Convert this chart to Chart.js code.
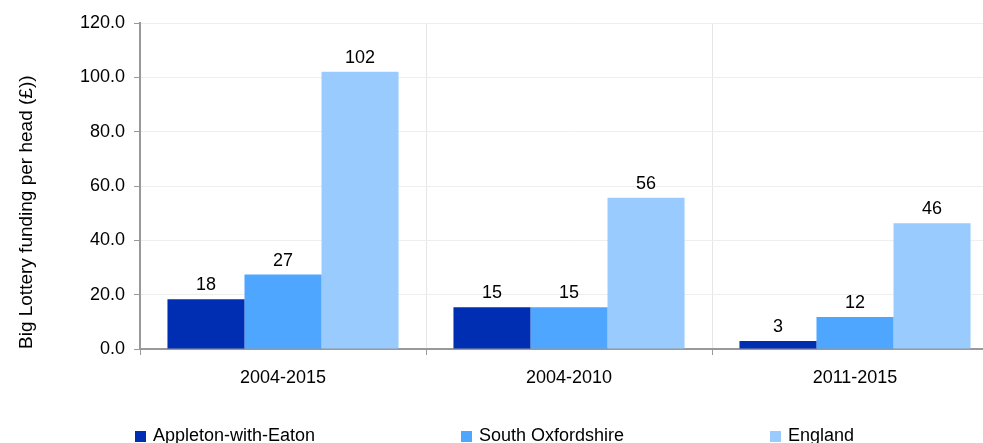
<!DOCTYPE html>
<html>
<head>
<meta charset="utf-8">
<script src="https://cdn.jsdelivr.net/npm/chart.js@4"></script>
<style>
  html, body { margin: 0; padding: 0; background: #fff; overflow: hidden; }
  #wrap { position: relative; width: 1000px; height: 443px; }
  #legend { position: absolute; left: 0; top: 0; width: 1000px; height: 443px; pointer-events: none;
    font-family: "Liberation Sans", Arial, sans-serif; font-size: 18px; color: #000; }
  .item { position: absolute; top: 425px; line-height: 21px; white-space: nowrap; }
  .box { display: inline-block; width: 11px; height: 11px; margin-right: 7px; vertical-align: -1px; }
</style>
</head>
<body>
<div id="wrap">
  <canvas id="barChart" width="1000" height="443"></canvas>
  <div id="legend"></div>
</div>
<script>
var periods = ['2004-2015', '2004-2010', '2011-2015'];
var appleton = [18.3, 15.4, 2.9];
var southOxon = [27.4, 15.4, 11.8];
var england = [102.1, 55.7, 46.3];
var yTicks = [0, 20, 40, 60, 80, 100, 120];

var seriesNames = ['Appleton-with-Eaton', 'South Oxfordshire', 'England'];
var seriesColors = ['#002eb3', '#4ea6ff', '#99cbff'];
var legendX = [135, 461, 770];

var fontFamily = '"Liberation Sans", Arial, sans-serif';

// value labels above each bar
var barLabels = {
  id: 'barLabels',
  afterDatasetsDraw: function(chart) {
    var c = chart.ctx;
    c.save();
    c.font = '18px ' + fontFamily;
    c.fillStyle = '#000';
    c.textAlign = 'center';
    c.textBaseline = 'bottom';
    chart.data.datasets.forEach(function(ds, i) {
      chart.getDatasetMeta(i).data.forEach(function(bar, j) {
        c.fillText(Math.round(ds.data[j]), bar.x, bar.y - 5);
      });
    });
    c.restore();
  }
};

var ctx = document.getElementById('barChart').getContext('2d');
var chart = new Chart(ctx, {
  type: 'bar',
  data: {
    labels: periods,
    datasets: [
      { label: seriesNames[0], data: appleton, backgroundColor: seriesColors[0] },
      { label: seriesNames[1], data: southOxon, backgroundColor: seriesColors[1] },
      { label: seriesNames[2], data: england, backgroundColor: seriesColors[2] }
    ]
  },
  options: {
    responsive: false,
    animation: false,
    layout: { padding: { top: 23, right: 2, left: 0, bottom: 0 } },
    datasets: { bar: { categoryPercentage: 0.808, barPercentage: 1.0 } },
    plugins: { legend: { display: false }, tooltip: { enabled: false } },
    scales: {
      x: {
        grid: { color: '#e6e6e6', tickColor: '#999', tickLength: 6, offset: true },
        border: { color: '#999', width: 2 },
        ticks: { color: '#000', padding: 12, font: { family: fontFamily, size: 18 } },
        afterFit: function(scale) { scale.height = 94; }
      },
      y: {
        min: 0,
        max: 120,
        afterBuildTicks: function(scale) {
          scale.ticks = yTicks.map(function(v) { return { value: v }; });
        },
        grid: { color: '#eeeeee', tickColor: '#999', tickLength: 6 },
        border: { color: '#999', width: 2 },
        ticks: {
          color: '#000', padding: 9, font: { family: fontFamily, size: 18 },
          callback: function(v) { return Number(v).toFixed(1); }
        },
        title: {
          display: true,
          text: 'Big Lottery funding per head (£))',
          color: '#000',
          align: 'start',
          padding: { top: 15, bottom: 4 },
          font: { family: fontFamily, size: 19 }
        },
        afterFit: function(scale) { scale.width = 140; }
      }
    }
  },
  plugins: [barLabels]
});

// legend in fixed columns, as in the original
var legend = document.getElementById('legend');
chart.data.datasets.forEach(function(ds, i) {
  var item = document.createElement('div');
  item.className = 'item';
  item.style.left = legendX[i] + 'px';
  var box = document.createElement('span');
  box.className = 'box';
  box.style.background = ds.backgroundColor;
  item.appendChild(box);
  item.appendChild(document.createTextNode(ds.label));
  legend.appendChild(item);
});
</script>
</body>
</html>
